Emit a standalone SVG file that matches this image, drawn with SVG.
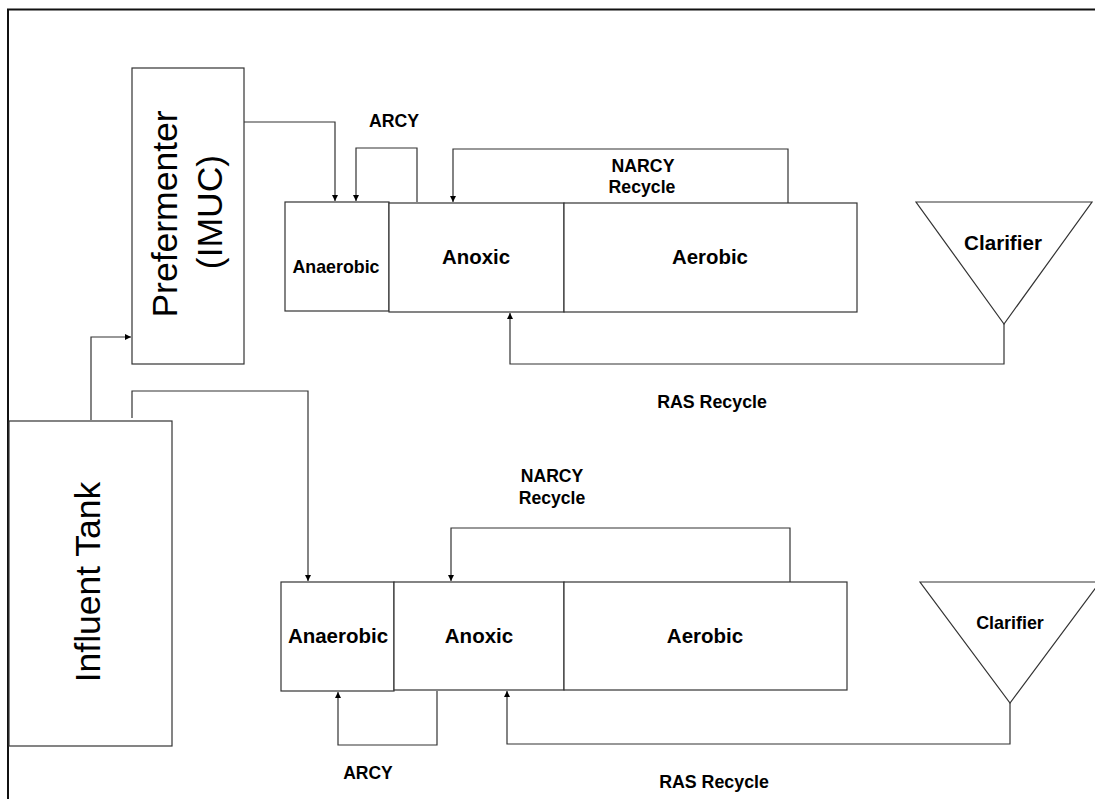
<svg xmlns="http://www.w3.org/2000/svg" width="1095" height="799" viewBox="0 0 1095 799">
  <style>
    .box { fill: #ffffff; stroke: #333333; stroke-width: 1.2; }
    .wire { fill: none; stroke: #333333; stroke-width: 1.2; }
    .lbl { font-family: "Liberation Sans", Arial, sans-serif; font-weight: bold; fill: #000000; text-anchor: middle; }
    .big { font-family: "Liberation Sans", Arial, sans-serif; font-weight: normal; fill: #000000; text-anchor: middle; font-size: 35.5px; }
  </style>
  <defs>
    <marker id="arrow" viewBox="0 0 10 10" refX="10" refY="5" markerWidth="6" markerHeight="6" markerUnits="userSpaceOnUse" orient="auto">
      <path d="M0,0 L10,5 L0,10 z" fill="#000000"/>
    </marker>
  </defs>

  <rect x="0" y="0" width="1095" height="799" fill="#ffffff"/>

  <!-- outer frame -->
  <path d="M8,799 L8,9.5 L1095,9.5" fill="none" stroke="#111111" stroke-width="2"/>

  <!-- connectors -->
  <g id="connectors">
    <!-- influent to prefermenter -->
    <path class="wire" d="M91,420 L91,337 L131,337" marker-end="url(#arrow)"/>
    <!-- prefermenter to upper anaerobic -->
    <path class="wire" d="M240,122 L335,122 L335,201" marker-end="url(#arrow)"/>
    <!-- upper ARCY -->
    <path class="wire" d="M417,202 L417,148 L356,148 L356,201" marker-end="url(#arrow)"/>
    <!-- upper NARCY -->
    <path class="wire" d="M788,203 L788,149 L453,149 L453,202" marker-end="url(#arrow)"/>
    <!-- upper RAS -->
    <path class="wire" d="M1004,324 L1004,364 L510,364 L510,313" marker-end="url(#arrow)"/>
    <!-- influent to lower anaerobic -->
    <path class="wire" d="M132,418 L132,391 L308,391 L308,581" marker-end="url(#arrow)"/>
    <!-- lower NARCY -->
    <path class="wire" d="M790,582 L790,528 L451,528 L451,581" marker-end="url(#arrow)"/>
    <!-- lower ARCY -->
    <path class="wire" d="M437,691 L437,745 L338,745 L338,692" marker-end="url(#arrow)"/>
    <!-- lower RAS -->
    <path class="wire" d="M1010,703 L1010,744 L507,744 L507,691" marker-end="url(#arrow)"/>
  </g>

  <!-- influent tank -->
  <g id="influent-tank">
    <rect class="box" x="9" y="421" width="163" height="325"/>
    <text class="big" transform="translate(100,582) rotate(-90)">Influent Tank</text>
  </g>

  <!-- prefermenter -->
  <g id="prefermenter">
    <rect class="box" x="132" y="68" width="112" height="296"/>
    <text class="big" transform="translate(177,214) rotate(-90)">Prefermenter</text>
    <text class="big" transform="translate(222,212) rotate(-90)">(IMUC)</text>
  </g>

  <!-- upper train -->
  <g id="upper-anaerobic">
    <rect class="box" x="285" y="202" width="104" height="109"/>
    <text class="lbl" x="336" y="273" font-size="17.8">Anaerobic</text>
  </g>
  <g id="upper-anoxic">
    <rect class="box" x="389" y="203" width="175" height="109"/>
    <text class="lbl" x="476" y="264" font-size="20.4">Anoxic</text>
  </g>
  <g id="upper-aerobic">
    <rect class="box" x="564" y="203" width="293" height="109"/>
    <text class="lbl" x="710" y="264" font-size="20.4">Aerobic</text>
  </g>
  <g id="upper-clarifier">
    <polygon class="box" points="916,202 1092,202 1004,324"/>
    <text class="lbl" x="1003" y="250" font-size="20.6">Clarifier</text>
  </g>

  <!-- lower train -->
  <g id="lower-anaerobic">
    <rect class="box" x="281" y="582" width="113" height="109"/>
    <text class="lbl" x="338" y="643" font-size="20.5">Anaerobic</text>
  </g>
  <g id="lower-anoxic">
    <rect class="box" x="394" y="582" width="170" height="108"/>
    <text class="lbl" x="479" y="643" font-size="20.5">Anoxic</text>
  </g>
  <g id="lower-aerobic">
    <rect class="box" x="564" y="582" width="283" height="108"/>
    <text class="lbl" x="705" y="643" font-size="20.5">Aerobic</text>
  </g>
  <g id="lower-clarifier">
    <polygon class="box" points="920,582 1100,582 1010,703"/>
    <text class="lbl" x="1010" y="629" font-size="17.9">Clarifier</text>
  </g>

  <!-- stream labels -->
  <g id="labels">
    <text class="lbl" x="394" y="127" font-size="17.7">ARCY</text>
    <text class="lbl" x="643" y="172" font-size="17.7">NARCY</text>
    <text class="lbl" x="642" y="193" font-size="17.7">Recycle</text>
    <text class="lbl" x="712" y="408" font-size="17.8">RAS Recycle</text>
    <text class="lbl" x="552" y="482" font-size="17.6">NARCY</text>
    <text class="lbl" x="552" y="504" font-size="17.6">Recycle</text>
    <text class="lbl" x="368" y="779" font-size="17.5">ARCY</text>
    <text class="lbl" x="714" y="788" font-size="17.8">RAS Recycle</text>
  </g>
</svg>
